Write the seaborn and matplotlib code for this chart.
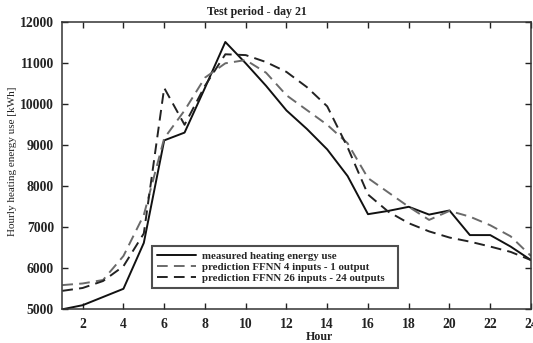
import matplotlib
matplotlib.use("Agg")
import matplotlib.pyplot as plt
import seaborn as sns
import pandas as pd
import numpy as np

hours = list(range(1, 25))
measured = [5000, 5100, 5300, 5500, 6620, 9120, 9310, 10400, 11520, 11000, 10450, 9850,
            9400, 8900, 8250, 7320, 7400, 7500, 7310, 7410, 6810, 6810, 6530, 6200]
pred_4in_1out = [5590, 5630, 5715, 6300, 7300, 9170, 9850, 10650, 11000, 11080, 10770, 10220,
                 9860, 9500, 9050, 8200, 7850, 7500, 7180, 7400, 7260, 7050, 6780, 6300]
pred_26in_24out = [5450, 5520, 5690, 6050, 6850, 10400, 9500, 10450, 11220, 11200, 11030, 10790,
                   10420, 9950, 8950, 7800, 7380, 7100, 6900, 6750, 6650, 6530, 6400, 6200]

labels = ["measured heating energy use",
          "prediction FFNN 4 inputs - 1 output",
          "prediction FFNN 26 inputs - 24 outputs"]
title = "Test period - day 21"
xlabel = "Hour"
ylabel = "Hourly heating energy use [kWh]"
xticks = list(range(2, 25, 2))
yticks = list(range(5000, 12001, 1000))

df = pd.DataFrame({
    "Hour": hours * 3,
    "value": measured + pred_4in_1out + pred_26in_24out,
    "series": [labels[0]] * 24 + [labels[1]] * 24 + [labels[2]] * 24,
})

sns.set_theme(style="ticks")
plt.rcParams["font.family"] = ["Liberation Serif", "DejaVu Serif"]

W, H = 533, 343
fig = plt.figure(figsize=(W / 100, H / 100), dpi=100)
ax = fig.add_axes([62.3 / W, 1 - 309.3 / H, (531 - 62.3) / W, (309.3 - 22.3) / H])

palette = {labels[0]: "#111111", labels[1]: "#6a6a6a", labels[2]: "#222222"}
dashes = {labels[0]: "", labels[1]: (5.5, 3.2), labels[2]: (5.5, 3.2)}
sns.lineplot(data=df, x="Hour", y="value", hue="series", style="series",
             palette=palette, dashes=dashes, linewidth=1.4, ax=ax,
             hue_order=labels, style_order=labels)

ax.set_xlim(1, 24)
ax.set_ylim(5000, 12000)
ax.set_xticks(xticks)
ax.set_yticks(yticks)
ax.tick_params(direction="in", length=4, width=1, top=True, right=True,
               labelsize=9.8, colors="#222222", pad=6)
for lab in ax.get_xticklabels() + ax.get_yticklabels():
    lab.set_fontweight("bold")
for s in ax.spines.values():
    s.set_linewidth(1.1)
    s.set_color("#333333")
ax.set_xlabel("")
ax.set_ylabel("")

fig.text(257 / W, 1 - 12 / H, title, ha="center", va="center", fontsize=8.6,
         fontweight="bold", color="#222222")
fig.text(319 / W, 1 - 337 / H, xlabel, ha="center", va="center", fontsize=8.6,
         fontweight="bold", color="#222222")
fig.text(13 / W, 1 - 161 / H, ylabel, ha="center", va="center", rotation=90,
         fontsize=8, color="#222222")

leg = ax.legend(loc="lower left",
                bbox_to_anchor=((152 - 62.3) / (531 - 62.3), (309.3 - 288) / 287,
                                (398 - 152) / (531 - 62.3), (288 - 243) / 287),
                mode="expand", borderaxespad=0, frameon=True, fancybox=False,
                handlelength=3.6, handletextpad=0.55, borderpad=0.45, labelspacing=0.15,
                prop={"size": 7.8, "weight": "bold"})
leg.get_frame().set_edgecolor("#222222")
leg.get_frame().set_linewidth(1.5)

fig.savefig("out.png", dpi=100, facecolor="white")
